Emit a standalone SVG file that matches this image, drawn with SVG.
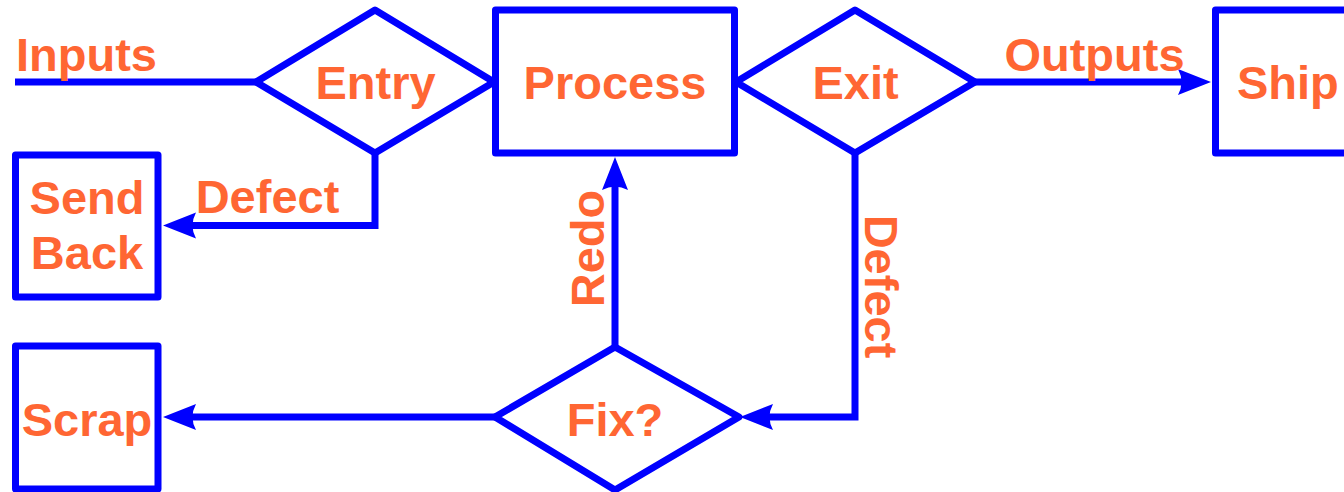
<svg xmlns="http://www.w3.org/2000/svg" width="1344" height="492" viewBox="0 0 1344 492">
<style>
.shape{fill:none;stroke:#0000FF;stroke-width:7;stroke-linejoin:round}
.conn{fill:none;stroke:#0000FF;stroke-width:7;stroke-linejoin:miter}
.lbl{font-family:"Liberation Sans",Arial,sans-serif;font-weight:bold;font-size:47px;fill:#FF6633}
.mid{text-anchor:middle}
</style>
<defs>
<marker id="ah" viewBox="-15 -15 37 30" markerWidth="37" markerHeight="30" refX="0" refY="0" orient="auto" markerUnits="userSpaceOnUse">
<path d="M20,0 L-13,-13 Q-6,0 -13,13 Z" fill="#0000FF"/>
</marker>
</defs>
<rect width="1344" height="492" fill="#FFFFFF"/>
<g id="connectors">
<path class="conn" d="M15,82 H256"/>
<path class="conn" d="M975,82 H1191" marker-end="url(#ah)"/>
<path class="conn" d="M375,153 V225.5 H183" marker-end="url(#ah)"/>
<path class="conn" d="M855,153 V417 H760" marker-end="url(#ah)"/>
<path class="conn" d="M615,346 V177" marker-end="url(#ah)"/>
<path class="conn" d="M495,417 H183" marker-end="url(#ah)"/>
<text class="lbl" x="16" y="71">Inputs</text>
<text class="lbl mid" x="1094.5" y="71">Outputs</text>
<text class="lbl mid" x="267.5" y="213">Defect</text>
<text class="lbl mid" transform="translate(604,248.5) rotate(-90)">Redo</text>
<text class="lbl mid" transform="translate(865,286.5) rotate(90)">Defect</text>
</g>
<g id="entry">
<polygon class="shape" points="256,82 375,10 494,82 375,153"/>
<text class="lbl mid" x="375.5" y="99">Entry</text>
</g>
<g id="process">
<rect class="shape" x="495.5" y="10" width="239" height="143"/>
<text class="lbl mid" x="615" y="99">Process</text>
</g>
<g id="exit">
<polygon class="shape" points="736,82 855,10 975,82 855,153"/>
<text class="lbl mid" x="855.5" y="99">Exit</text>
</g>
<g id="ship">
<rect class="shape" x="1215.5" y="10" width="150" height="143"/>
<text class="lbl" x="1237" y="99">Ship</text>
</g>
<g id="sendback">
<rect class="shape" x="15.5" y="155" width="142.5" height="142"/>
<text class="lbl mid" x="87" y="214">Send</text>
<text class="lbl mid" x="87" y="269">Back</text>
</g>
<g id="scrap">
<rect class="shape" x="15.5" y="346" width="142.5" height="143"/>
<text class="lbl mid" x="87" y="436">Scrap</text>
</g>
<g id="fix">
<polygon class="shape" points="495,417 615,347 739,417 615,490"/>
<text class="lbl mid" x="615" y="436">Fix?</text>
</g>
</svg>
